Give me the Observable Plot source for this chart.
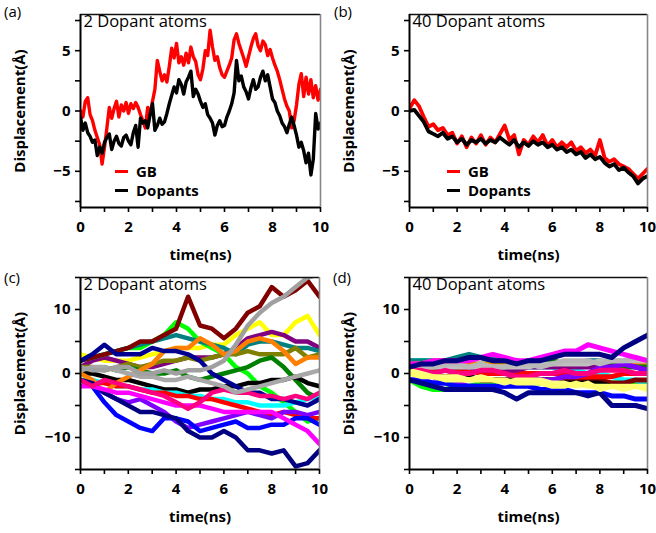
<!DOCTYPE html>
<html><head><meta charset="utf-8">
<script src="https://cdn.jsdelivr.net/npm/d3@7"></script>
<script src="https://cdn.jsdelivr.net/npm/@observablehq/plot@0.6"></script>
<style>
body{margin:0;background:#fff;}
#wrap{position:relative;width:656px;height:533px;font-family:"Open Sans",sans-serif;overflow:hidden;}
.panel{position:absolute;}
.plab{position:absolute;font-size:15px;line-height:20px;color:#000;}
.leg{position:absolute;font-size:15px;font-weight:bold;line-height:16px;height:16px;display:flex;align-items:center;white-space:nowrap;}
.leg .sw{display:inline-block;width:13px;height:3px;margin-right:8px;}
</style></head><body><div id="wrap"></div>
<script>
// ---------- data ----------
const xTicks = [0,1,2,3,4,5,6,7,8,9,10];
const yTicksTop = [-7.5,-5,-2.5,0,2.5,5,7.5];
const yTicksBot = [-15,-10,-5,0,5,10,15];
const yDomTop = [-8, 8];
const yDomBot = [-15, 15];
const xDom = [0, 10];

// panel (a): 2 dopant atoms, time 0..10 ns
const tA = [0,0.1,0.2,0.3,0.4,0.5,0.6,0.7,0.8,0.9,1,1.1,1.2,1.3,1.4,1.5,1.6,1.7,1.8,1.9,2,2.1,2.2,2.3,2.4,2.5,2.6,2.7,2.8,2.9,3,3.1,3.2,3.3,3.4,3.5,3.6,3.7,3.8,3.9,4,4.1,4.2,4.3,4.4,4.5,4.6,4.7,4.8,4.9,5,5.1,5.2,5.3,5.4,5.5,5.6,5.7,5.8,5.9,6,6.1,6.2,6.3,6.4,6.5,6.6,6.7,6.8,6.9,7,7.1,7.2,7.3,7.4,7.5,7.6,7.7,7.8,7.9,8,8.1,8.2,8.3,8.4,8.5,8.6,8.7,8.8,8.9,9,9.1,9.2,9.3,9.4,9.5,9.6,9.7,9.8,9.9,10];
const gbA = [0,-0.5,0.8,1.1,-0.3,-0.8,-1.6,-2.2,-2.8,-4.4,
  -3,-1.4,0.3,-0.6,0.2,0.8,-0.5,0.5,0,0.7,
  -0.2,0.6,0.2,0.7,0.3,-0.3,-0.8,-1.4,0.3,-0.3,
  0.8,1.8,4.2,3.3,2.5,3,2.4,3.7,5.2,4.4,
  5.6,4,4.5,3.8,4.8,4,5.3,4.5,4.1,3,
  2.6,3.5,5,4.6,6.7,5.3,4.2,4.5,3.6,3,
  2.8,3.3,3.8,4.4,5.9,6.4,5.6,5,4.4,3.7,
  4.5,5.3,6,6.4,5.4,5,5.8,5.5,4.6,5.1,
  4.4,3.8,3.3,2.6,1.8,1,0.4,0,-1.4,-0.8,
  0.5,2.2,3.1,1.2,2.8,1.4,2.6,1.1,2.1,0.9,1.8];
const dopA = [-0.5,-1.6,-1,-1.8,-2.1,-2.6,-2.4,-3.7,-3,-3.5,
  -2.6,-2.2,-1.9,-3.2,-2.5,-2.1,-2.7,-2.9,-2.2,-2,
  -2.5,-2.8,-1.8,-1.2,-3,-0.6,-1,-0.8,-1.4,-0.3,
  0.6,-1.6,-1.2,-0.6,-1.1,-0.9,-0.2,0.6,1.3,2,
  1.5,2.6,2.2,1.4,2.4,2.8,3.3,1.2,1.8,1.4,
  0.8,0.3,0.6,-0.3,-0.6,-1,-2,-1.2,-0.8,-1.3,
  -1.2,-0.5,0,0.6,1.5,4.2,2.5,2.9,2,1.6,
  1,1.9,2.6,1.8,2,2.8,3.3,2.5,3,2,
  1,0.7,0,-0.4,-1,-1.3,-1.8,-1.1,-0.5,-1.2,
  -2,-3,-2.6,-3.3,-4.3,-3.5,-5.3,-4,-0.2,-1.5,-1];

// panel (b): 40 dopant atoms
const tB = [0,0.2,0.4,0.6,0.8,1,1.2,1.4,1.6,1.8,2,2.2,2.4,2.6,2.8,3,3.2,3.4,3.6,3.8,4,4.2,4.4,4.6,4.8,5,5.2,5.4,5.6,5.8,6,6.2,6.4,6.6,6.8,7,7.2,7.4,7.6,7.8,8,8.2,8.4,8.6,8.8,9,9.2,9.4,9.6,9.8,10];
const gbB = [0.2,0.9,0.4,-0.5,-1.3,-1.1,-1.6,-1.4,-2,-1.8,
  -2.7,-2.1,-3,-2.2,-2.7,-2,-2.8,-2.2,-2.6,-1.9,
  -1.2,-2.4,-2,-3.6,-2.4,-2.8,-2.1,-2.6,-2,-2.9,
  -2.4,-3,-2.6,-3,-2.6,-3.3,-3,-3.5,-3.2,-3.7,
  -2.4,-3.9,-4.2,-4,-4.4,-4.6,-4.8,-5.2,-5.6,-5.2,-4.8];
const dopB = [0,0.1,-0.4,-0.9,-1.7,-1.9,-2.1,-1.8,-2.3,-2.1,
  -2.6,-2.3,-2.8,-2.4,-2.6,-2.3,-2.7,-2.4,-2.6,-2.2,
  -2.5,-2.8,-2.4,-3,-2.6,-2.9,-2.5,-2.8,-2.6,-3,
  -2.8,-3.2,-3,-3.4,-3.2,-3.6,-3.4,-3.9,-3.6,-4,
  -3.8,-4.3,-4.6,-4.4,-4.9,-4.7,-5.1,-5.4,-6,-5.6,-5.4];

// panels (c),(d): individual atoms
const tC = [0,0.5,1,1.5,2,2.5,3,3.5,4,4.5,5,5.5,6,6.5,7,7.5,8,8.5,9,9.5,10];
// (c) 2 dopant atoms
const cYellow = [3,2.5,2,2,2,2.5,3,3.5,4,4,4,4.5,4.5,6,7,8,6,6,8,9,6];
const cPurple = [1,2,2.5,2,1.5,1,1,1.5,2,2.5,2.5,2.5,3,4,5.5,6,6.5,6,5,5,4];
const cLime = [2,2.5,3,3.5,4,4,5,6,8,7,5,4,3,1,0,-2,-3,-4.5,-6,-7.5,-7];
const cTeal = [2,2.5,3,3.5,4,4.5,5,5.5,6,5.5,5,4.5,4,3,4.5,5,5,4.5,4,4,3.5];
const cOlive = [1,1,0.5,1,1.5,1,1.5,2,2,2.5,2,2.5,3,3,3.5,3,3,3,4,2.5,3];
const cDarkGreen = [0,0.5,1,0.5,1,0.5,0,0,0.5,-0.5,-1,-0.5,0,0.5,1,2,2.5,1,-1,-3,-4];
const cBlack = [0,0,-0.5,-1,-1,-1.5,-2,-2.5,-2.5,-3,-2.5,-2.5,-2,-2,-1.5,-1.5,-1,-1,-0.5,-1.5,-2];
const cCyan = [-1,-1,-1.5,-2,-2,-2.5,-2.5,-3,-3,-3.5,-3.5,-4,-4,-4.5,-4.5,-5,-5,-5,-4.5,-4,-3.5];
const cRed = [-1,-1.5,-1.5,-2,-2,-2.5,-3,-3,-3.5,-3.5,-4,-4,-4.5,-5,-5.5,-6,-6.5,-6,-6.5,-7,-7];
const cMaroon = [2,2.5,3,3.5,4,5,5,6,7,12,7.5,7,5.5,7,9.5,10.5,13.5,12,13,14.5,12];
const cOrange = [0,-1,-3,-1.5,-0.5,0.5,1.5,3.5,4,4,5.5,4.5,3,3.5,5,5.5,5,3.5,1.5,2.5,2.5];
const cNavyA = [2,3,4.5,3,3,3,4,3.5,3.5,3,2,0,-1,-2,-3,-3,-4,-4,-4.5,-5,-4];
const cViolet = [-1,-2,-3,-4,-4.5,-4,-5,-6,-7.5,-8.5,-8,-7.5,-7,-6.5,-6,-6.5,-7,-6,-6,-6.5,-6];
const cBlue = [-1,-2,-4.5,-6.5,-7.5,-8.5,-9,-7,-7,-7.5,-9,-8.5,-8,-7.5,-8.5,-8.5,-8,-8,-7,-7,-8];
const cNavyB = [-1,-1.5,-3,-4,-5,-6,-6,-6.5,-7,-9,-10,-10,-9,-10,-12,-12,-12.5,-12,-14.5,-14,-12];
const cMagenta = [-2,-2,-2.5,-3,-3,-3.5,-4,-4.5,-5,-5,-5,-5.5,-6,-6,-6,-6,-6,-7,-8,-9,-11];
const cPink = [-1,-2,-1,-1.5,-2,-2.5,-3,-3.5,-4.5,-5.5,-4.5,-3,-2.5,-3,-3,-3.5,-3.5,-4,-3.5,-4,-3];
const cGrayB = [0.5,1,1,0.5,0,-0.5,-0.5,-1,-1,-0.5,-1,-1.5,-2,-3,-2.5,-2,-1.5,-1,-0.5,0,0.5];
const cGrayA = [1,0.5,0.5,1,1,0,0,0.5,0,0.5,0.5,1,2,4.5,7.5,9.5,11,12,13.5,15,15.5];
// (d) 40 dopant atoms
const dLime = [-1,-2,-2.5,-2.5,-2,-2,-1.5,-1.5,-1.5,-1.5,-1.5,-1.5,-1.5,-1.5,-1.5,-1.5,-1.5,-1.5,-1.5,-1.5,-1.5];
const dCyan = [2,2,2,2,2,1.5,1.5,1.5,1.5,1,1,1,1,0.5,0.5,0,0,-0.5,-1,-1,-2];
const dTeal = [2,2,2,2,2.5,3,2.5,2.5,2,2,1.5,1.5,1.5,1.5,1.5,2,2,1.5,1.5,1.5,1.5];
const dOrange = [1.5,1.5,2,2,2,1.5,1.5,1.5,1.5,1.5,2,2,2,1.5,1.5,1.5,1.5,1.5,1.5,1.5,1.5];
const dDarkGreen = [1,1.5,1.5,2,2,2.5,2.5,2,2,2,1.5,2,2,1.5,1.5,1.5,1.5,1.5,1,1,1];
const dMaroon = [0,0,-0.5,-0.5,-0.5,-0.5,-1,-1,-1,-1,-1,-1,-1,-1,-1,-1,-1,-1.5,-1.5,-1,-1];
const dBlack = [0,0,-0.5,-0.5,-0.5,-0.5,-1,-1,-1,-1,-1,-1,-1,-1.5,-1.5,-1.5,-1.5,-2,-2,-2,-2];
const dRed = [1,1,0.5,0.5,0.5,0.5,0,0,0,0,0,0,0,0,-0.5,-0.5,-0.5,-0.5,0,0,0];
const dPurple = [1,1,1,1,1,1,0.5,0.5,0.5,0.5,1,1,1,1,1,1,1,1,1.5,1,0.5];
const dViolet = [-1,-1,-1.5,-1.5,-1.5,-2,-2,-2,-2,-1.5,-1,-1,-1,-0.5,-0.5,0,1,1,1.5,1,0.5];
const dBlue = [-1,-1,-1.5,-1.5,-2,-2,-2,-2,-2,-2,-2,-2.5,-2.5,-2.5,-3,-3,-3,-3.5,-3.5,-4,-4];
const dGrayA = [1,1,1,1,1,1,1,1,1,1,1,1.5,1.5,1.5,1.5,1.5,2,2,2,2,2];
const dGrayB = [1.5,1,1,1.5,1.5,1,1.5,1,1,1.5,1.5,1,1.5,2,2,2,1.5,2,2,2.5,2];
const dPink = [0.5,0.5,0,0.5,0,0,0.5,0.5,0,-0.5,-0.5,0,0,0.5,0,0,0.5,0.5,0.5,0,0];
const dYellow = [0,-0.5,-0.5,-1,-1,-1,-1,-1,-1,-1.5,-1.5,-1.5,-2,-2,-1.5,-2,-2,-2,-2,-2,-2.5];
const dYellowB = [0.5,0,-0.5,-0.5,-0.5,-1,-0.5,-1,-1.5,-1,-1,-1,-1.5,-1.5,-2,-1.5,-2.5,-2,-2.5,-2,-2];
const dMagenta = [1.5,1.5,2,2,2,2,2.5,3,2.5,2,2,2.5,3,3.5,3.5,4.5,4,3.5,3,2.5,2];
const dNavyUp = [1,1.5,1.5,2,2,2.5,2.5,2,2,1.5,2,2,2.5,3,3,3,3,2.5,4,5,6];
const dNavyDown = [-1,-1.5,-2,-2.5,-2.5,-2.5,-2.5,-2.5,-3,-4,-3,-3,-3,-3,-3,-3.5,-3,-5,-5,-5,-5.5];

// ---------- styles (colours kept apart from data) ----------
const seriesC = [
  [cYellow,"#ffff00"],[cPurple,"#800080"],[cLime,"#00ff00"],[cTeal,"#008080"],[cOlive,"#808000"],
  [cDarkGreen,"#008000"],[cBlack,"#000000"],[cCyan,"#00ffff"],[cRed,"#ff0000"],[cMaroon,"#800000"],
  [cOrange,"#ff8000"],[cNavyA,"#000090"],[cViolet,"#8000ff"],[cBlue,"#0000ff"],[cNavyB,"#000080"],
  [cMagenta,"#ff00ff"],[cPink,"#ff0080"],[cGrayB,"#a8a8a8"],[cGrayA,"#a0a0a0"]
];
const seriesD = [
  [dLime,"#00ff00"],[dCyan,"#00ffff"],[dTeal,"#008080"],[dOrange,"#ff8000"],[dDarkGreen,"#008000"],
  [dMaroon,"#800000"],[dBlack,"#000000"],[dRed,"#ff0000"],[dPurple,"#800080"],[dViolet,"#8000ff"],
  [dBlue,"#0000ff"],[dNavyDown,"#000088"],[dGrayA,"#c0c0c0"],[dGrayB,"#b8b8b8"],[dPink,"#ff0080"],
  [dYellowB,"#ffff80"],[dYellow,"#ffff70"],[dMagenta,"#ff00ff"],[dNavyUp,"#000080"]
];

const toRows = (t, v) => t.map((x, i) => ({t: x, v: v[i]}));
const minus = s => String(s).replace("-", "\u2212");
const fmtX = d => (d % 2 ? "" : String(d));
const fmtYTop = d => (d % 5 ? "" : minus(d));
const fmtYBot = d => (d % 10 ? "" : minus(d));

const wrap = document.getElementById("wrap");

function panel({left, top, width, height, mL, mR, mT, mB, yDomain, yTicks, yFmt, title, lines}) {
  const chart = Plot.plot({
    width, height,
    marginLeft: mL, marginRight: mR, marginTop: mT, marginBottom: mB,
    x: {domain: xDom},
    y: {domain: yDomain},
    style: {fontFamily: "'Open Sans', sans-serif", fontSize: "15px", fontWeight: "bold", color: "#000", background: "transparent", overflow: "visible"},
    marks: [
      ...lines,
      Plot.ruleY([yDomain[1]], {stroke: "#111", strokeWidth: 1.4}),
      Plot.ruleX([xDom[1]], {stroke: "#888", strokeWidth: 1.6}),
      Plot.ruleX([xDom[0]], {stroke: "#000", strokeWidth: 2}),
      Plot.ruleY([yDomain[0]], {stroke: "#000", strokeWidth: 2}),
      Plot.axisX({ticks: xTicks, tickFormat: fmtX, tickSize: 5, tickPadding: 9, strokeWidth: 1.6,
        label: "time(ns)", labelAnchor: "center", labelArrow: "none", labelOffset: 52}),
      Plot.axisY({ticks: yTicks, tickFormat: yFmt, tickSize: 5, tickPadding: 5, strokeWidth: 1.6,
        label: "Displacement(Å)", labelAnchor: "center", labelArrow: "none", labelOffset: 66}),
      Plot.text([title], {text: d => d, frameAnchor: "top-left", dx: 3, dy: 1, lineAnchor: "top",
        fontWeight: "normal", fontSize: 16.5})
    ]
  });
  const div = document.createElement("div");
  div.className = "panel";
  div.style.left = left + "px";
  div.style.top = top + "px";
  div.appendChild(chart);
  wrap.appendChild(div);
}

function label(txt, left, top) {
  const d = document.createElement("div");
  d.className = "plab"; d.textContent = txt;
  d.style.left = left + "px"; d.style.top = top + "px";
  wrap.appendChild(d);
}
function legend(left, top, items) {
  items.forEach(([name, color], i) => {
    const d = document.createElement("div");
    d.className = "leg";
    d.style.left = left + "px"; d.style.top = (top + i * 19) + "px";
    const sw = document.createElement("span"); sw.className = "sw"; sw.style.background = color;
    d.appendChild(sw);
    d.appendChild(document.createTextNode(name));
    wrap.appendChild(d);
  });
}

const lineOpts = (color, w) => ({x: "t", y: "v", stroke: color, strokeWidth: w, strokeLinejoin: "round", clip: true});

panel({left: 0, top: 0, width: 330, height: 266, mL: 80, mR: 10, mT: 14, mB: 59,
  yDomain: yDomTop, yTicks: yTicksTop, yFmt: fmtYTop, title: "2 Dopant atoms",
  lines: [Plot.line(toRows(tA, gbA), lineOpts("#ff0000", 3.4)), Plot.line(toRows(tA, dopA), lineOpts("#000000", 3.4))]});
panel({left: 330, top: 0, width: 326, height: 266, mL: 79, mR: 9, mT: 14, mB: 59,
  yDomain: yDomTop, yTicks: yTicksTop, yFmt: fmtYTop, title: "40 Dopant atoms",
  lines: [Plot.line(toRows(tB, gbB), lineOpts("#ff0000", 3.8)), Plot.line(toRows(tB, dopB), lineOpts("#000000", 3.8))]});
panel({left: 0, top: 266, width: 330, height: 267, mL: 80, mR: 11, mT: 11, mB: 64,
  yDomain: yDomBot, yTicks: yTicksBot, yFmt: fmtYBot, title: "2 Dopant atoms",
  lines: seriesC.map(([v, c]) => Plot.line(toRows(tC, v), lineOpts(c, 4.5)))});
panel({left: 330, top: 266, width: 326, height: 267, mL: 79, mR: 9, mT: 11, mB: 64,
  yDomain: yDomBot, yTicks: yTicksBot, yFmt: fmtYBot, title: "40 Dopant atoms",
  lines: seriesD.map(([v, c]) => Plot.line(toRows(tC, v), lineOpts(c, 5)))});

label("(a)", 4, 1); label("(b)", 334, 1); label("(c)", 4, 267); label("(d)", 333, 267);
legend(115, 163, [["GB", "#ff0000"], ["Dopants", "#000000"]]);
legend(447, 163, [["GB", "#ff0000"], ["Dopants", "#000000"]]);
</script></body></html>
